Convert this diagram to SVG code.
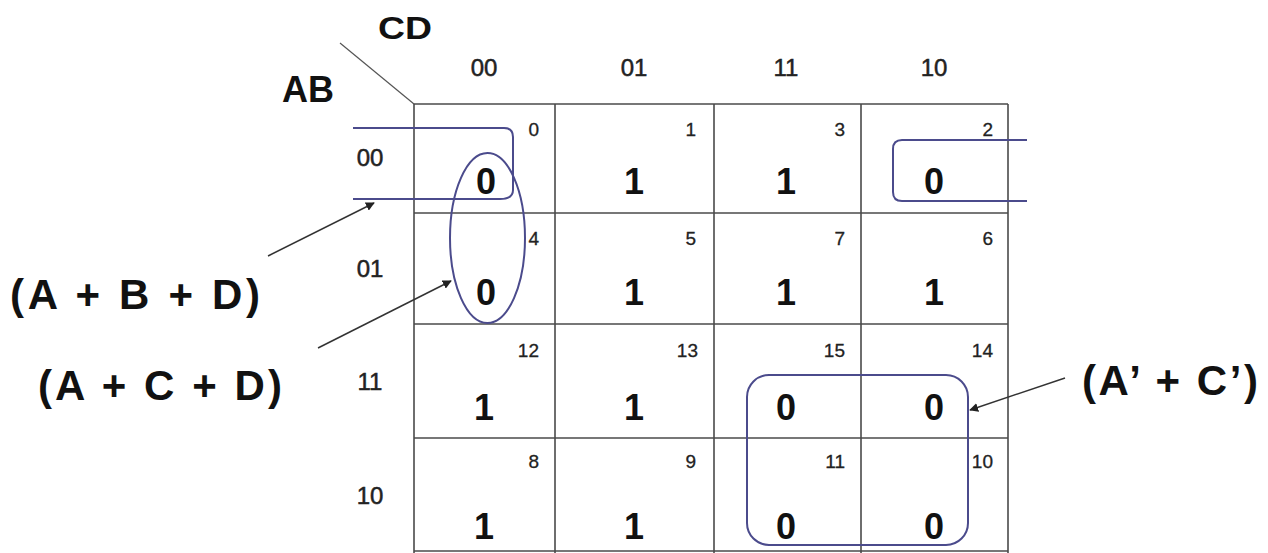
<svg xmlns="http://www.w3.org/2000/svg" width="1268" height="553" viewBox="0 0 1268 553">
<style>
  .grid { stroke: #4a4a4a; stroke-width: 1.6; fill: none; }
  .loop { stroke: #4b4b8c; stroke-width: 2; fill: none; }
  .arrow { stroke: #333; stroke-width: 1.5; fill: none; marker-end: url(#ah); }
  .hdr { font-family: "Liberation Sans", Arial, sans-serif; font-size: 24px; fill: #222; stroke: #222; stroke-width: 0.5; text-anchor: middle; }
  .idx { font-family: "Liberation Sans", Arial, sans-serif; font-size: 19px; fill: #222; stroke: #222; stroke-width: 0.3; text-anchor: end; }
  .val { font-family: "Liberation Sans", Arial, sans-serif; font-size: 36px; font-weight: bold; fill: #111; text-anchor: middle; }
  .lbl { font-family: "Liberation Sans", Arial, sans-serif; font-size: 42px; font-weight: bold; fill: #111; }
  .var { font-family: "Liberation Sans", Arial, sans-serif; font-weight: bold; fill: #111; }
</style>
<defs>
  <marker id="ah" viewBox="0 0 10 10" refX="9" refY="5" markerWidth="9" markerHeight="9" markerUnits="userSpaceOnUse" orient="auto">
    <path d="M0,0 L10,5 L0,10 z" fill="#222"/>
  </marker>
</defs>
<rect width="1268" height="553" fill="#ffffff"/>

<g id="axis">
  <line x1="340" y1="43" x2="414" y2="104" stroke="#555" stroke-width="1.2"/>
  <text class="var" x="378" y="39" font-size="32" textLength="54" lengthAdjust="spacingAndGlyphs">CD</text>
  <text class="var" x="282" y="102" font-size="36">AB</text>
</g>

<g id="col-headers">
  <text class="hdr" x="484" y="76">00</text>
  <text class="hdr" x="634" y="76">01</text>
  <text class="hdr" x="786" y="76">11</text>
  <text class="hdr" x="934" y="76">10</text>
</g>
<g id="row-headers">
  <text class="hdr" x="370" y="166">00</text>
  <text class="hdr" x="370" y="277">01</text>
  <text class="hdr" x="370" y="390">11</text>
  <text class="hdr" x="370" y="504">10</text>
</g>

<g id="grid">
  <line class="grid" x1="414" y1="104" x2="1008" y2="104"/>
  <line class="grid" x1="414" y1="213" x2="1008" y2="213"/>
  <line class="grid" x1="414" y1="324" x2="1008" y2="324"/>
  <line class="grid" x1="414" y1="438" x2="1008" y2="438"/>
  <line class="grid" x1="414" y1="551" x2="1008" y2="551"/>
  <line class="grid" x1="414" y1="104" x2="414" y2="553"/>
  <line class="grid" x1="555" y1="104" x2="555" y2="553"/>
  <line class="grid" x1="714" y1="104" x2="714" y2="553"/>
  <line class="grid" x1="861" y1="104" x2="861" y2="553"/>
  <line class="grid" x1="1008" y1="104" x2="1008" y2="553"/>
</g>

<g id="cells">
  <text class="idx" x="539" y="136">0</text>
  <text class="idx" x="696" y="136">1</text>
  <text class="idx" x="845" y="136">3</text>
  <text class="idx" x="993" y="136">2</text>
  <text class="idx" x="539" y="245">4</text>
  <text class="idx" x="696" y="245">5</text>
  <text class="idx" x="845" y="245">7</text>
  <text class="idx" x="993" y="245">6</text>
  <text class="idx" x="539" y="357">12</text>
  <text class="idx" x="698" y="357">13</text>
  <text class="idx" x="845" y="357">15</text>
  <text class="idx" x="993" y="357">14</text>
  <text class="idx" x="539" y="468">8</text>
  <text class="idx" x="696" y="468">9</text>
  <text class="idx" x="845" y="468">11</text>
  <text class="idx" x="993" y="468">10</text>

  <text class="val" x="486" y="194">0</text>
  <text class="val" x="634" y="194">1</text>
  <text class="val" x="786" y="194">1</text>
  <text class="val" x="934" y="194">0</text>
  <text class="val" x="486" y="305">0</text>
  <text class="val" x="634" y="305">1</text>
  <text class="val" x="786" y="305">1</text>
  <text class="val" x="934" y="305">1</text>
  <text class="val" x="484" y="420">1</text>
  <text class="val" x="634" y="420">1</text>
  <text class="val" x="786" y="420">0</text>
  <text class="val" x="934" y="420">0</text>
  <text class="val" x="484" y="539">1</text>
  <text class="val" x="634" y="539">1</text>
  <text class="val" x="786" y="539">0</text>
  <text class="val" x="934" y="539">0</text>
</g>

<g id="loop-ABD">
  <path class="loop" d="M353,128 L504,128 Q513,128 513,137 L513,190 Q513,199 500,199 L353,199"/>
  <path class="loop" d="M1027,140 L902,140 Q893,140 893,149 L893,192 Q893,201 902,201 L1027,201"/>
</g>
<g id="loop-ACD">
  <ellipse class="loop" cx="487.5" cy="238" rx="37.5" ry="85"/>
</g>
<g id="loop-AC">
  <rect class="loop" x="747" y="375" width="221" height="170" rx="22" ry="22"/>
</g>

<g id="labels">
  <text class="lbl" x="10" y="309" textLength="250" lengthAdjust="spacing">(A + B + D)</text>
  <text class="lbl" x="38" y="400" textLength="244" lengthAdjust="spacing">(A + C + D)</text>
  <text class="lbl" x="1082" y="395" textLength="176" lengthAdjust="spacing">(A’ + C’)</text>
</g>

<g id="connectors">
  <line class="arrow" x1="268" y1="256" x2="374" y2="203"/>
  <line class="arrow" x1="318" y1="348" x2="451" y2="281"/>
  <line class="arrow" x1="1065" y1="378" x2="970" y2="410"/>
</g>
</svg>
